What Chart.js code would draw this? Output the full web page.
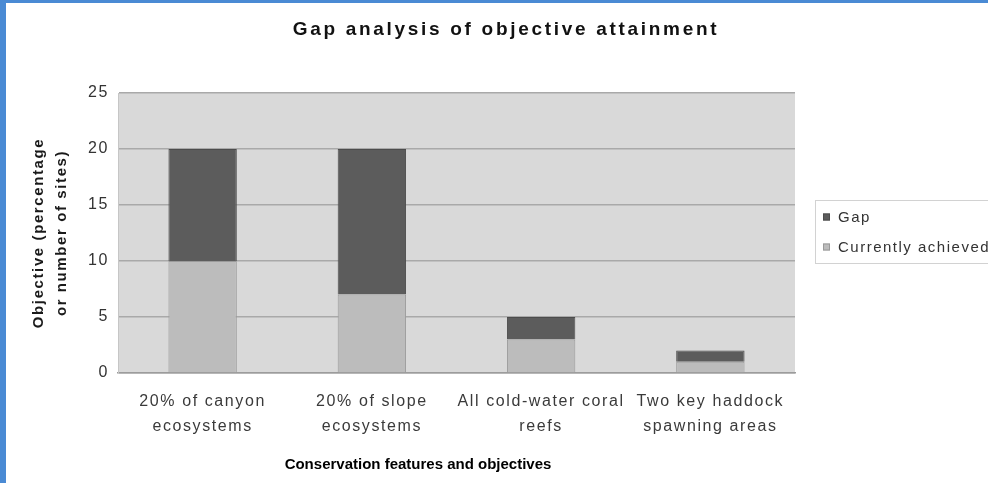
<!DOCTYPE html>
<html>
<head>
<meta charset="utf-8">
<title>Gap analysis of objective attainment</title>
<script src="https://cdn.jsdelivr.net/npm/chart.js@4/dist/chart.umd.min.js"></script>
<style>
  html, body { margin: 0; padding: 0; background: #fff; }
  body {
    width: 988px; height: 483px; overflow: hidden; position: relative;
    box-sizing: border-box;
  }
  #frameLeft { position: absolute; left: 0; top: 0; width: 6px; height: 483px; background: #4a8ad4; }
  #frameTop { position: absolute; left: 0; top: 0; width: 988px; height: 3px; background: #4a8ad4; }
  #c { position: absolute; left: 6px; top: 3px; }
</style>
</head>
<body>
<div id="frameLeft"></div>
<div id="frameTop"></div>
<canvas id="c" width="1010" height="480"></canvas>
<script>
// Objectives per conservation feature, split into what is already achieved and what is left
const categories = [
  ['20% of canyon', 'ecosystems'],
  ['20% of slope', 'ecosystems'],
  ['All cold-water coral', 'reefs'],
  ['Two key haddock', 'spawning areas']
];
const currentlyAchieved = [10, 7, 3, 1];
const gap = [10, 13, 2, 1];
const yTicks = [0, 5, 10, 15, 20, 25];

const chartTitle = 'Gap analysis of objective attainment';
const xTitle = 'Conservation features and objectives';
const yTitle = ['Objective (percentage', 'or number of sites)'];

const FONT = '"Liberation Sans", Arial, Helvetica, sans-serif';
const COLOR_GAP = '#5c5c5c';
const COLOR_ACHIEVED = '#bcbcbc';

// Wide letter spacing for the axis text
const letterSpacing = {
  id: 'letterSpacing',
  beforeUpdate(chart) { chart.ctx.letterSpacing = '1.6px'; },
  beforeLayout(chart) { chart.ctx.letterSpacing = '1.6px'; },
  beforeDraw(chart) { chart.ctx.letterSpacing = '1.6px'; }
};

// Grey plot background
const plotBackground = {
  id: 'plotBackground',
  beforeDraw(chart) {
    const { ctx, chartArea: a } = chart;
    ctx.save();
    ctx.fillStyle = '#d9d9d9';
    ctx.fillRect(a.left, a.top, a.right - a.left, a.bottom - a.top);
    ctx.restore();
  }
};

// Title, x-axis title and the boxed legend
const annotations = {
  id: 'annotations',
  afterDraw(chart) {
    const { ctx } = chart;
    ctx.save();

    // chart title
    ctx.letterSpacing = '2.7px';
    ctx.fillStyle = '#111';
    ctx.font = 'bold 19px ' + FONT;
    ctx.textAlign = 'center';
    ctx.textBaseline = 'middle';
    ctx.fillText(chartTitle, 500, 27);

    // x-axis title
    ctx.letterSpacing = '0px';
    ctx.fillStyle = '#000';
    ctx.font = 'bold 15px ' + FONT;
    ctx.fillText(xTitle, 412, 462);

    // legend box
    const ds = chart.data.datasets;
    const order = [1, 0];
    ctx.strokeStyle = '#d2d2d2';
    ctx.lineWidth = 1;
    ctx.strokeRect(809.5, 197.5, 240, 63);
    ctx.font = '15px ' + FONT;
    ctx.letterSpacing = '1.5px';
    ctx.textAlign = 'left';
    order.forEach((i, k) => {
      const y = 214 + k * 30;
      ctx.fillStyle = ds[i].backgroundColor;
      ctx.fillRect(817, y - 3.5, 7, 7);
      ctx.strokeStyle = ds[i].borderColor;
      ctx.strokeRect(817.5, y - 3, 6, 6);
      ctx.fillStyle = '#333';
      ctx.fillText(ds[i].label, 832, y + 1);
    });
    ctx.restore();
  }
};

new Chart(document.getElementById('c'), {
  type: 'bar',
  data: {
    labels: categories,
    datasets: [
      {
        label: 'Currently achieved',
        data: currentlyAchieved,
        backgroundColor: COLOR_ACHIEVED,
        borderColor: '#9a9a9a',
        borderWidth: 1,
        categoryPercentage: 0.8,
        barPercentage: 0.505
      },
      {
        label: 'Gap',
        data: gap,
        backgroundColor: COLOR_GAP,
        borderColor: '#4c4c4c',
        borderWidth: 1,
        categoryPercentage: 0.8,
        barPercentage: 0.505
      }
    ]
  },
  options: {
    responsive: false,
    animation: false,
    devicePixelRatio: 1,
    layout: { padding: { top: 90, left: 0, right: 221, bottom: 0 } },
    plugins: {
      legend: { display: false },
      title: { display: false },
      tooltip: { enabled: false }
    },
    scales: {
      x: {
        stacked: true,
        grid: { display: false, drawTicks: false },
        border: { display: true, color: '#9c9c9c', width: 1.5 },
        ticks: {
          color: '#3a3a3a',
          padding: 16,
          maxRotation: 0,
          autoSkip: false,
          font: { family: FONT, size: 16, lineHeight: '25px' }
        },
        afterFit(scale) { scale.height = 110; }
      },
      y: {
        stacked: true,
        min: 0,
        max: 25,
        afterBuildTicks(scale) { scale.ticks = yTicks.map(v => ({ value: v })); },
        grid: { color: '#a9a9a9', lineWidth: 1.5, drawTicks: false },
        border: { display: true, color: '#c6c6c6', width: 1 },
        ticks: {
          color: '#333',
          padding: 9,
          font: { family: FONT, size: 16 }
        },
        title: {
          display: true,
          text: yTitle,
          color: '#1a1a1a',
          padding: { top: 21.5, bottom: 0 },
          font: { family: FONT, size: 15, weight: 'bold', lineHeight: '23px' }
        },
        afterFit(scale) { scale.width = 112; }
      }
    }
  },
  plugins: [letterSpacing, plotBackground, annotations]
});
</script>
</body>
</html>
